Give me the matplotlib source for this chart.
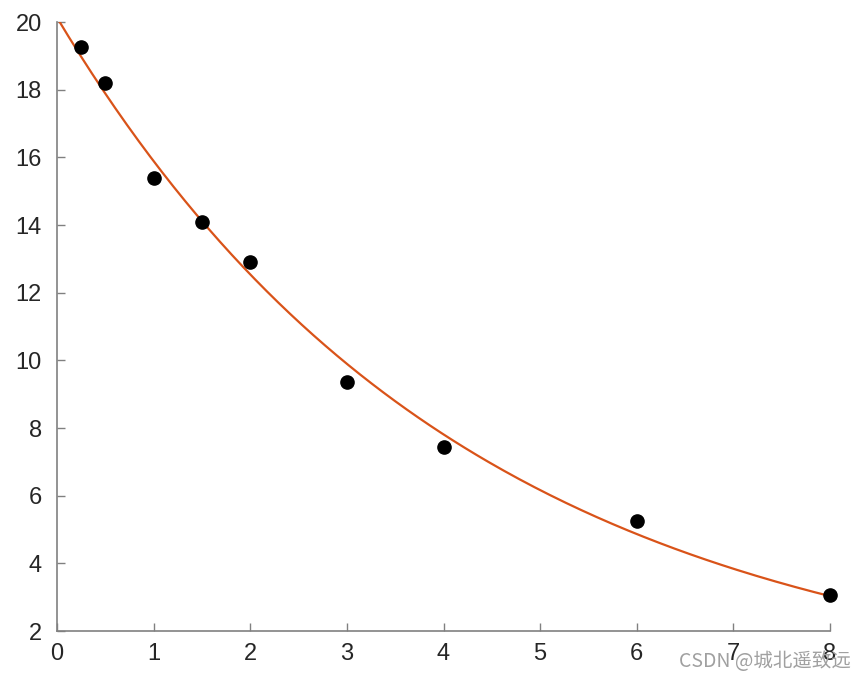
import matplotlib

matplotlib.use("Agg")

import matplotlib.pyplot as plt
import numpy as np

x_data = [0.25, 0.5, 1, 1.5, 2, 3, 4, 6, 8]
y_data = [19.25, 18.2, 15.4, 14.1, 12.9, 9.35, 7.45, 5.25, 3.05]
x_ticks = [0, 1, 2, 3, 4, 5, 6, 7, 8]
y_ticks = [2, 4, 6, 8, 10, 12, 14, 16, 18, 20]

# exponential fit y = a*exp(b*x), weighted log-linear least squares
xd = np.array(x_data, dtype=float)
yd = np.array(y_data, dtype=float)
b, log_a = np.polyfit(xd, np.log(yd), 1, w=np.sqrt(yd))
x_fit = np.linspace(0, 8, 200)
y_fit = np.exp(log_a) * np.exp(b * x_fit)

plt.rcParams["font.family"] = ["Liberation Sans", "DejaVu Sans"]

fig = plt.figure(figsize=(8.66, 6.8), dpi=100)
ax = fig.add_axes([57 / 866, 1 - 631 / 680, (830 - 57) / 866, (631 - 22) / 680])
ax.plot(x_fit, y_fit, color="#D95319", linewidth=1.6, zorder=2)
ax.plot(xd, yd, "o", color="black", markersize=9.5, zorder=3, clip_on=False)

ax.set_xlim(0, 8)
ax.set_ylim(2, 20)
ax.set_xticks(x_ticks)
ax.set_yticks(y_ticks)
for side in ["top", "right"]:
    ax.spines[side].set_visible(False)
for side in ["left", "bottom"]:
    ax.spines[side].set_color("#808080")
    ax.spines[side].set_linewidth(1.2)
ax.tick_params(direction="in", length=6, width=1.0, color="#808080", labelsize=17, labelcolor="#262626")
ax.tick_params(axis="x", pad=9)
ax.tick_params(axis="y", pad=11)

fig.text(0.982, 0.027, "CSDN @城北遥致远", ha="right", va="center", fontsize=14, color="#a0a0a0",
         family=["Noto Sans CJK SC", "DejaVu Sans"])

fig.savefig("out.png", dpi=100)
